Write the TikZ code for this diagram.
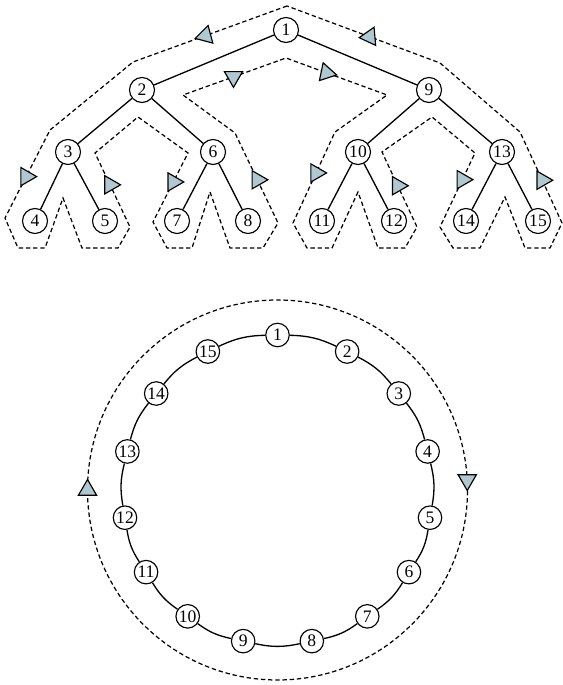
\documentclass[tikz,border=0pt]{standalone}
\usepackage{fontspec}
\setmainfont{Liberation Serif}
\usetikzlibrary{shapes.geometric}
\definecolor{tipfill}{RGB}{176,200,208}

\begin{document}
\begin{tikzpicture}[x=0.02cm,y=0.02cm,
  vert/.style={draw,circle,fill=white,minimum size=0.5cm,inner sep=0.5pt,line width=0.65pt},
  rvert/.style={vert,minimum size=0.47cm},
  edge/.style={line width=0.75pt},
  tour/.style={dash pattern=on 2.5pt off 1.6pt,line width=0.7pt},
  tri/.style={draw,solid,fill=tipfill,regular polygon,regular polygon sides=3,
    minimum size=0.42cm,inner sep=0pt,line width=0.65pt}]
  \useasboundingbox (0,0) rectangle (563,685);

  % tree
  \foreach \n/\x/\y in {1/286/655,2/142/595,9/429/595,3/68/533,6/213/533,10/358/533,13/502/533,
      4/35/464,5/105/464,7/177/464,8/248/464,11/322/464,12/394/464,14/466/464,15/538/464}
    \node[vert] (t\n) at (\x,\y) {\n};
  \foreach \a/\b in {1/2,1/9,2/3,2/6,3/4,3/5,6/7,6/8,9/10,9/13,10/11,10/12,13/14,13/15}
    \draw[edge] (t\a) -- (t\b);

  % euler tour round the tree
  \draw[tour] (287,679) -- (133,623) node[tri,pos=0.53,rotate=105] (w1) {}
    -- (50,555) -- (5,467) node[tri,pos=0.53,rotate=-90] (w2) {}
    -- (18,437) -- (45,437) -- (63,487) -- (82,437) -- (118,437) -- (130,458)
    -- (95,532) node[tri,pos=0.57,rotate=-90] (w3) {}
    -- (138,568) -- (188,532)
    -- (153,463) node[tri,pos=0.42,rotate=-90] (w4) {}
    -- (167,437) -- (192,437) -- (210,493) -- (230,437) -- (263,437) -- (278,462)
    -- (235,552) node[tri,pos=0.48,rotate=-90] (w5) {}
    -- (183,590) -- (286,627) node[tri,pos=0.49,rotate=180] (w6) {}
    -- (387,590) node[tri,pos=0.4,rotate=18] (w7) {}
    -- (335,553) -- (293,462) node[tri,pos=0.45,rotate=-90] (w8) {}
    -- (307,437) -- (332,437) -- (358,493) -- (378,437) -- (405,437) -- (417,458)
    -- (382,533) node[tri,pos=0.55,rotate=-90] (w9) {}
    -- (432,568) -- (475,532)
    -- (440,458) node[tri,pos=0.36,rotate=-90] (w10) {}
    -- (453,437) -- (480,437) -- (505,488) -- (525,437) -- (550,437) -- (562,462)
    -- (520,553) node[tri,pos=0.47,rotate=-90] (w11) {}
    -- (440,622) -- (287,679) node[tri,pos=0.46,rotate=95] (w12) {};

  % ring
  \coordinate (ctr) at (277.5,195);
  \foreach \n/\a in {1/90,2/63.3,3/38.5,4/14.4,5/-10.3,6/-32,7/-54.6,8/-77.2,
      9/-102.8,10/-125.4,11/-148,12/-169.7,13/165.6,14/141.5,15/116.7}
    \node[rvert] (r\n) at ([shift={(\a:155)}]ctr) {\n};
  \foreach \a/\b in {1/2,2/3,3/4,4/5,5/6,6/7,7/8,8/9,9/10,10/11,11/12,12/13,13/14,14/15,15/1}
    \draw[edge] (r\a) to[bend left=12] (r\b);
  \draw[tour] (ctr) circle (190);
  \node[tri,rotate=180] (ringR) at ([shift={(3:190)}]ctr) {};
  \node[tri] (ringL) at ([shift={(180:190)}]ctr) {};
\end{tikzpicture}
\end{document}
